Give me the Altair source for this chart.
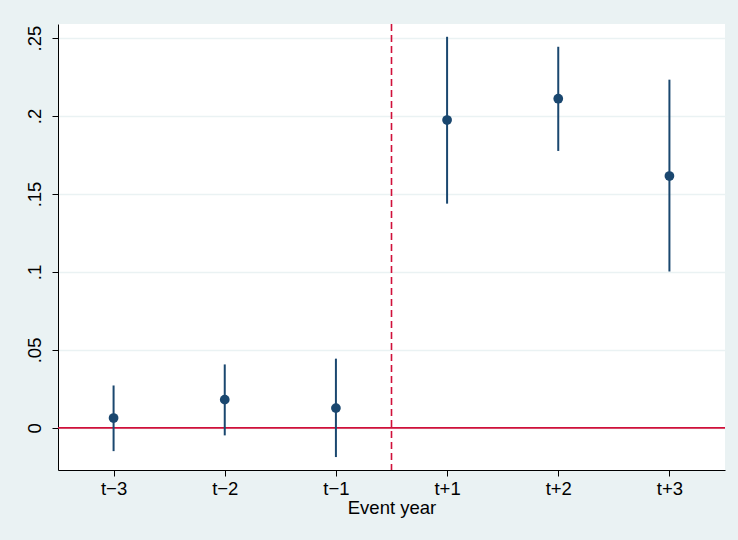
import altair as alt
import pandas as pd

labels = ["t−3", "t−2", "t−1", "t+1", "t+2", "t+3"]
pos = [1, 2, 3, 4, 5, 6]
coef = [0.0063, 0.0181, 0.0127, 0.1974, 0.2111, 0.1615]
ci_low = [-0.0149, -0.0048, -0.0187, 0.1438, 0.1776, 0.1003]
ci_high = [0.0272, 0.0407, 0.0444, 0.2508, 0.2444, 0.2233]

df = pd.DataFrame({"pos": pos, "label": labels, "coef": coef, "lo": ci_low, "hi": ci_high})

NAVY = "#1A476F"
RED = "#D0103A"
BG = "#EAF2F3"
FONT = "Liberation Sans"
FS = 18.5

label_expr = "datum.value == 1 ? 't−3' : datum.value == 2 ? 't−2' : datum.value == 3 ? 't−1' : datum.value == 4 ? 't+1' : datum.value == 5 ? 't+2' : 't+3'"

xscale = alt.Scale(domain=[0.5, 6.5], nice=False, zero=False)
yscale = alt.Scale(domain=[-0.027, 0.259], nice=False, zero=False)

x_enc = alt.X("pos:Q", scale=xscale,
              axis=alt.Axis(title="Event year", values=pos, labelExpr=label_expr,
                            grid=False, tickSize=6, labelPadding=3, labelFontSize=FS,
                            titleFontSize=FS, titleFontWeight="normal", titlePadding=1,
                            domainColor="black", tickColor="black", labelColor="black",
                            titleColor="black", labelFont=FONT, titleFont=FONT))
y_axis = alt.Axis(title=None, values=[0, 0.05, 0.1, 0.15, 0.2, 0.25],
                  labelExpr="datum.value == 0 ? '0' : replace(format(datum.value, '.2~f'), /^0/, '')",
                  grid=True, gridColor=BG, gridWidth=1.5, tickSize=6, labelAngle=270,
                  labelAlign="center", labelBaseline="bottom", labelPadding=8,
                  labelFontSize=FS, domainColor="black", tickColor="black", labelColor="black",
                  labelFont=FONT)

base = alt.Chart(df)

bars = base.mark_rule(color=NAVY, strokeWidth=2).encode(
    x=x_enc,
    y=alt.Y("lo:Q", scale=yscale, axis=y_axis),
    y2="hi:Q",
)
pts = base.mark_point(filled=True, color=NAVY, size=95, opacity=1).encode(
    x=alt.X("pos:Q", scale=xscale),
    y=alt.Y("coef:Q", scale=yscale),
)
zero = alt.Chart(pd.DataFrame({"y": [0]})).mark_rule(color=RED, strokeWidth=1.6).encode(
    y=alt.Y("y:Q", scale=yscale)
)
vline = alt.Chart(pd.DataFrame({"x": [3.5]})).mark_rule(color=RED, strokeWidth=1.6, strokeDash=[7, 4]).encode(
    x=alt.X("x:Q", scale=xscale)
)

chart = alt.layer(zero, vline, bars, pts).properties(
    width=667, height=446,
    autosize=alt.AutoSizeParams(type="none"),
    padding={"left": 58, "top": 24, "right": 13, "bottom": 70},
    background=BG,
).configure_view(fill="white", stroke=None)

chart.save("out.html", embed_options={"renderer": "svg", "actions": False})
